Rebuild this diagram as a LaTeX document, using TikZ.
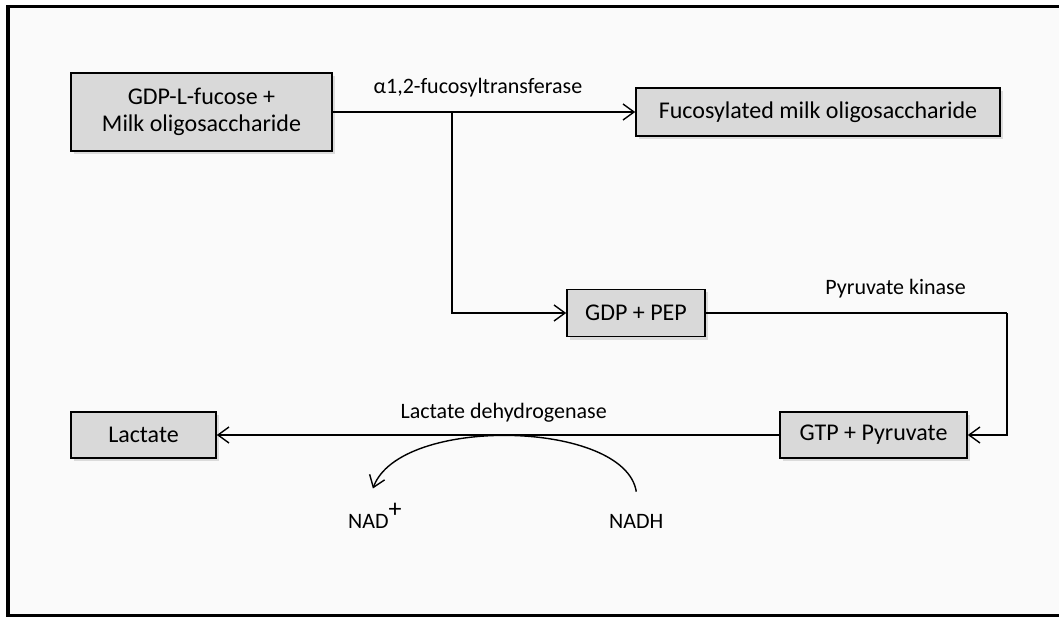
\documentclass[tikz,border=0pt]{standalone}
\usepackage{fontspec}
\setmainfont{Carlito}
\usepackage{tikz}
\usetikzlibrary{arrows.meta,shadows}
\definecolor{bx}{HTML}{D9D9D9}
\definecolor{bg}{HTML}{FAFAFA}

\begin{document}
\begin{tikzpicture}[x=1pt,y=-1pt]
          \tikzstyle{every node}=[font=\fontsize{22}{26}\selectfont,inner sep=0pt]
          \tikzstyle{box}=[draw,line width=1.6pt,fill=bx,align=center,font=\fontsize{24}{27}\selectfont,drop shadow={opacity=0.25,shadow xshift=3pt,shadow yshift=-3pt}]
          \tikzstyle{arr}=[line width=1.4pt,-{Straight Barb[length=11pt,width=16pt,line width=1.4pt]}]
          \useasboundingbox (0,0) rectangle (1059,617);
          \fill[bg] (8,6) rectangle (1059,615);
          \draw[line width=3.4pt] (1059,6.7) -- (8,6.7) -- (8,615.5);
          \draw[line width=2.4pt] (6,615.5) -- (1059,615.5);
          \node[box,minimum width=261pt,minimum height=78pt] (src) at (201.5,112) {GDP-L-fucose +\\Milk oligosaccharide};
          \node[box,minimum width=364pt,minimum height=48pt] (fmo) at (818,112) {Fucosylated milk oligosaccharide};
          \node[box,minimum width=138pt,minimum height=47pt] (pep) at (636,313) {GDP + PEP};
          \node[box,minimum width=187pt,minimum height=46pt] (gtp) at (873.5,435) {GTP + Pyruvate};
          \node[box,minimum width=145pt,minimum height=46pt] (lac) at (143.5,435) {Lactate};
          \coordinate (br) at (452,112);
          \coordinate (rt) at (1007,313);
          \draw[arr] (src) -- (fmo) node[pos=0.48,above=14pt] {α1,2-fucosyltransferase};
          \draw[arr] (br) |- (pep);
          \draw[line width=1.4pt] (pep) -- (rt) node[pos=0.63,above=14pt] {Pyruvate kinase};
          \draw[arr] (rt) |- (gtp);
          \draw[arr] (gtp) -- (lac) node[pos=0.49,above=12pt] {Lactate dehydrogenase};
          \node[anchor=base west] (nad) at (348,528) {NAD\raisebox{11pt}{\fontsize{26}{26}\selectfont +}};
          \node[anchor=base west] (nadh) at (609,528) {NADH};
          \draw[arr] ([yshift=22pt]nadh.north) .. controls (625,420) and (400,415) .. ([xshift=-2pt,yshift=14pt]nad.north);
        \end{tikzpicture}
\end{document}
